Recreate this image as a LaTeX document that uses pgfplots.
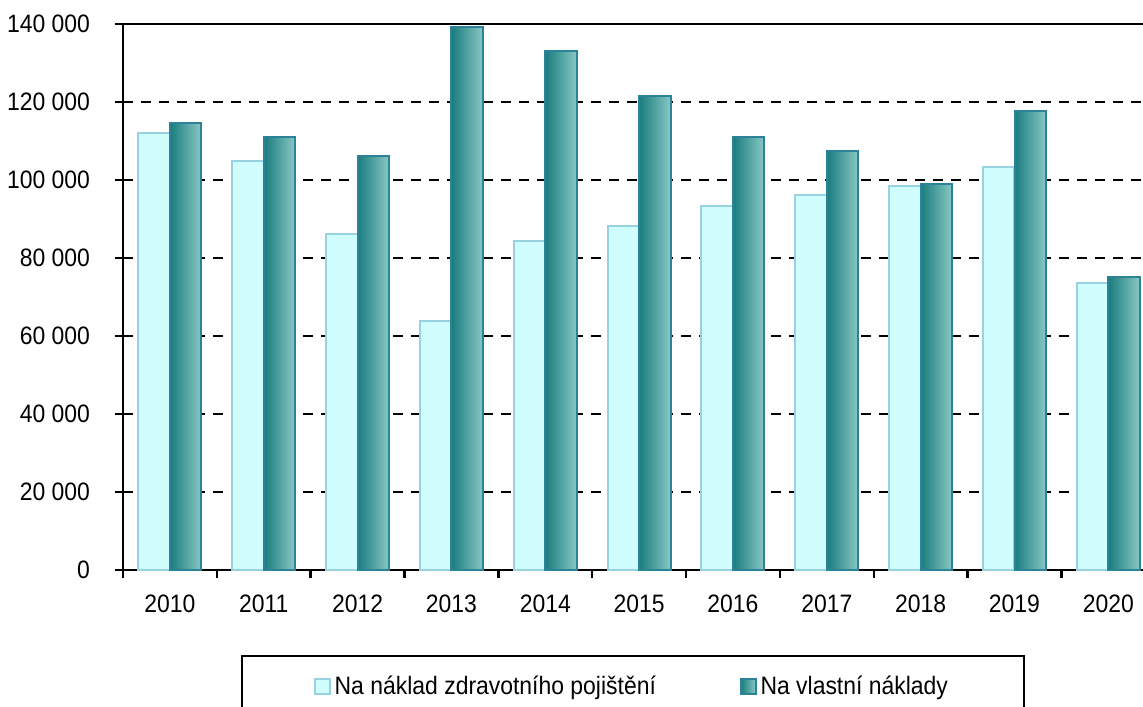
\documentclass[border=0pt]{standalone}
\usepackage{pgfplots}
\pgfplotsset{compat=1.18}
\usepackage{fontspec}
\setmainfont{Liberation Sans}[FakeStretch=0.91]
\definecolor{lightfill}{HTML}{D0FEFE}
\definecolor{lightedge}{HTML}{98D2E0}
\definecolor{darkleft}{HTML}{1A7C7E}
\definecolor{darkright}{HTML}{88C8C4}
\definecolor{darkedge}{HTML}{2C8296}
\begin{document}
\begin{tikzpicture}
\begin{axis}[
  name=ax,
  scale only axis,
  width=510pt, height=273pt,
  xmin=-0.5, xmax=10.37,
  ymin=0, ymax=140000,
  scaled y ticks=false,
  axis lines*=left,
  axis line style={line width=1.2pt, black, -},
  tick align=outside,
  xtick={0,...,10},
  xticklabels={2010,2011,2012,2013,2014,2015,2016,2017,2018,2019,2020},
  minor xtick={-0.5,0.5,...,9.5},
  x tick style={draw=none},
  minor x tick style={draw=black, line width=1.2pt},
  minor tick length=4pt,
  ytick={0,20000,...,140000},
  yticklabels={0,20 000,40 000,60 000,80 000,100 000,120 000,140 000},
  y tick style={black, line width=1.2pt},
  major tick length=4pt,
  ymajorgrids,
  grid style={black, solid, dash pattern=on 5pt off 4pt, line width=1.2pt},
  tick label style={font=\fontsize{12.6}{14}\selectfont, black},
  yticklabel style={xshift=-9pt},
  xticklabel style={yshift=-5pt},
  legend columns=2,
  legend cell align=left,
  legend style={at={(0.5,0)}, anchor=north, yshift=-42.5pt,
    draw=black, line width=0.8pt,
    font=\fontsize{12.6}{14}\selectfont,
    inner xsep=36pt, inner ysep=8pt,
    /tikz/every even column/.append style={column sep=40pt}},
  legend image code/.code={\path[#1, line width=0.8pt] (0pt,-3.8pt) rectangle (7.5pt,3.8pt);},
  darkbar/.style={ybar, bar width=0.335, bar shift=0.168, left color=darkleft, right color=darkright, draw=darkedge, line width=1pt},
]
\addplot[ybar, bar width=0.335, bar shift=-0.168, fill=lightfill, draw=lightedge, line width=1pt]
 coordinates {(0,112000) (1,104900) (2,86100) (3,63800) (4,84300) (5,88200) (6,93300) (7,96200) (8,98500) (9,103300) (10,73600)};
\addlegendentry{Na náklad zdravotního pojištění}
\addplot[darkbar] coordinates {(0,114700)};
\addlegendentry{Na vlastní náklady}
\addplot[darkbar, forget plot] coordinates {(1,111000)};
\addplot[darkbar, forget plot] coordinates {(2,106100)};
\addplot[darkbar, forget plot] coordinates {(3,139200)};
\addplot[darkbar, forget plot] coordinates {(4,133200)};
\addplot[darkbar, forget plot] coordinates {(5,121500)};
\addplot[darkbar, forget plot] coordinates {(6,111000)};
\addplot[darkbar, forget plot] coordinates {(7,107400)};
\addplot[darkbar, forget plot] coordinates {(8,99000)};
\addplot[darkbar, forget plot] coordinates {(9,117600)};
\addplot[darkbar, forget plot] coordinates {(10,75100)};
\draw[black, line width=1.2pt] (rel axis cs:0,1) -- (rel axis cs:1,1);
\end{axis}
\pgfresetboundingbox
\path[use as bounding box] ([xshift=-61.5pt, yshift=-68pt]ax.south west) rectangle ([yshift=12pt]ax.north east);
\end{tikzpicture}
\end{document}
